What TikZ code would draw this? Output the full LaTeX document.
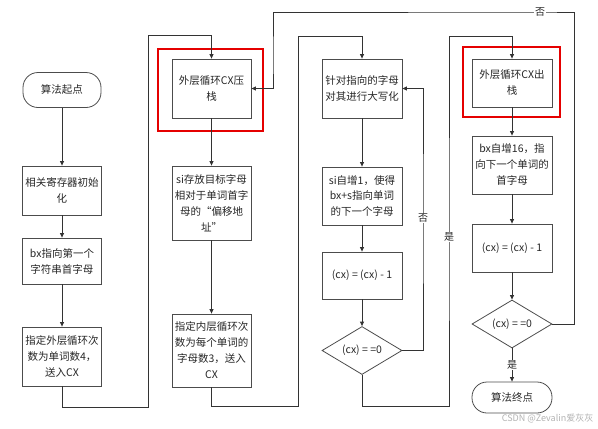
\documentclass[tikz,border=0pt]{standalone}
\usepackage{fontspec}
\setmainfont{Noto Sans CJK SC}
\usepackage{tikz}
\usetikzlibrary{arrows.meta}
\usetikzlibrary{shapes.geometric}

\begin{document}
\begin{tikzpicture}[x=1pt,y=-1pt,
	line width=0.8pt, draw=black!80,
	>={Triangle[length=4.5pt,width=4pt]},
	every node/.style={font=\fontsize{10.5}{16}\selectfont, text=black!85},
	box/.style={draw=black!70, rectangle, align=center, inner sep=0pt, minimum width=79pt},
	term/.style={draw=black!70, rectangle, rounded corners=15pt, align=center, inner sep=0pt, minimum width=78pt},
	test/.style={draw=black!70, diamond, aspect=1.7, inner sep=0pt, minimum width=80pt, minimum height=48pt},
	mark box/.style={draw=red!90!black, line width=2pt},
	lbl/.style={fill=white, inner sep=1pt, font=\fontsize{10}{12}\selectfont}]
	\useasboundingbox (0,0) rectangle (598,429);
	\node[term, minimum height=35pt] (start) at (62,90) {算法起点};
	\node[box, minimum height=49pt] (init) at (62,190.5) {相关寄存器初始\\化};
	\node[box, minimum height=46pt] (bxfirst) at (62,261) {bx指向第一个\\字符串首字母};
	\node[box, minimum height=59pt] (outer) at (62,356.5) {指定外层循环次\\数为单词数4，\\送入CX};
	\node[box, minimum height=59pt] (push) at (211.5,88.5) {外层循环CX压\\栈};
	\node[box, minimum height=74pt] (si) at (211.5,203) {si存放目标字母\\相对于单词首字\\母的“偏移地\\址”};
	\node[box, minimum height=73pt] (inner) at (211.5,350.5) {指定内层循环次\\数为每个单词的\\字母数3，送入\\CX};
	\node[box, minimum height=59pt, minimum width=80pt] (upper) at (362,88.5) {针对指向的字母\\对其进行大写化};
	\node[box, minimum height=58pt, minimum width=80pt] (siinc) at (362,196) {si自增1，使得\\bx+s指向单词\\的下一个字母};
	\node[box, minimum height=47pt, minimum width=80pt] (dec1) at (362,275.5) {(cx) = (cx) - 1};
	\node[test] (test1) at (362,350.5) {(cx) = =0};
	\node[box, minimum height=48pt, minimum width=80pt] (pop) at (512,83) {外层循环CX出\\栈};
	\node[box, minimum height=58pt, minimum width=80pt] (bxinc) at (512,165) {bx自增16，指\\向下一个单词的\\首字母};
	\node[box, minimum height=48pt, minimum width=80pt] (dec2) at (512,248) {(cx) = (cx) - 1};
	\node[test] (test2) at (512,324) {(cx) = =0};
	\node[term, minimum height=31pt, minimum width=80pt] (end) at (512,397.5) {算法终点};
	\draw[mark box] (158,49) rectangle (263,131);
	\draw[mark box] (463,47) rectangle (560,117);
	\path[->]
	(start) edge (init)
	(init) edge (bxfirst)
	(bxfirst) edge (outer)
	(push) edge (si)
	(si) edge (inner)
	(upper) edge (siinc)
	(siinc) edge (dec1)
	(dec1) edge (test1)
	(pop) edge (bxinc)
	(bxinc) edge (dec2)
	(dec2) edge (test2)
	(test2) edge node[lbl] {是} (end)
	;
	\draw[->] (outer.south) |- (148,407) -- (148,35) -| (push.north);
	\draw[->] (inner.south) |- (298,406) -- (298,36) -| (upper.north);
	\draw[->] (test1.east) -| (423,218) node[lbl] {否} |- (upper.east);
	\draw[->] (test1.south) |- (449,406) -- (449,237) node[lbl] {是} -- (449,36) -| (pop.north);
	\draw[->] (test2.east) -| (574,12) -- (540,12) node[lbl] {否} -| (273,60) |- (push.east);
	\node[text=black!30, font=\fontsize{9}{10}\selectfont, anchor=east] (mark) at (597,418) {CSDN @Zevalin爱灰灰};
\end{tikzpicture}
\end{document}
